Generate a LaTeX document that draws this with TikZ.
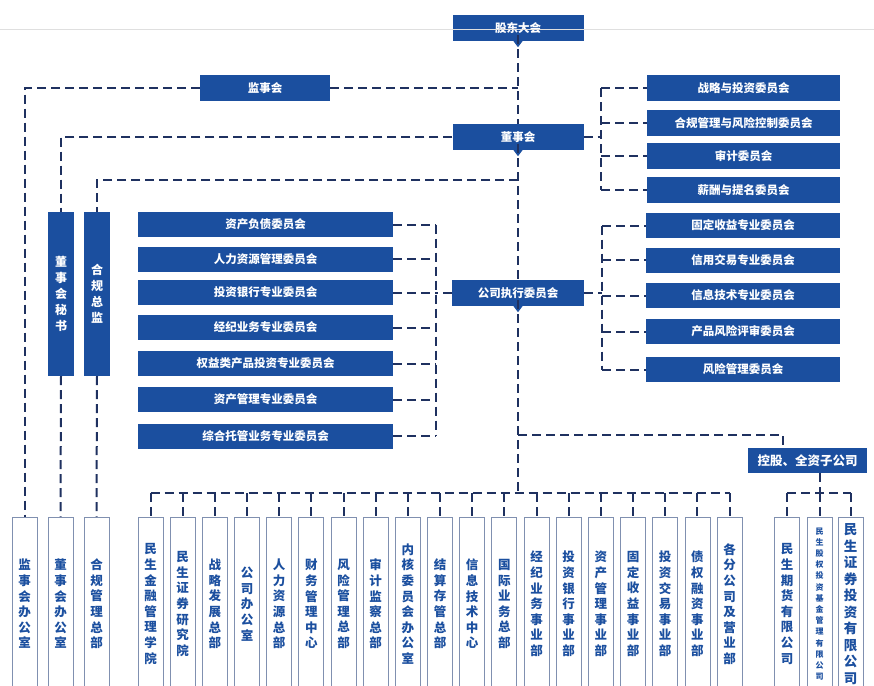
\documentclass[tikz,border=0pt]{standalone}
\usepackage{fontspec}
\setmainfont{Noto Sans CJK SC}
\usetikzlibrary{positioning,calc}
\XeTeXlinebreaklocale "zh"
\XeTeXlinebreakskip=0pt plus 1pt
\setlength{\parindent}{0pt}
\definecolor{boxblue}{HTML}{1B4F9F}
\definecolor{linenavy}{HTML}{1F3160}
\definecolor{deptline}{HTML}{8090B0}

\begin{document}
\begin{tikzpicture}[x=1pt,y=-1pt,
  bluebox/.style={fill=boxblue,text=white,inner sep=0pt,minimum height=26pt,font=\bfseries\fontsize{11.5}{14}\selectfont},
  vbluebox/.style={bluebox,minimum width=26pt,minimum height=164pt,text width=13pt,align=center,font=\bfseries\fontsize{12}{16}\selectfont},
  deptbox/.style={draw=deptline,line width=0.8pt,fill=white,text=boxblue,inner sep=0pt,minimum width=25pt,minimum height=174pt,text width=13pt,align=center,font=\bfseries\fontsize{12.5}{15.6}\selectfont},
  link/.style={linenavy,line width=2pt,dash pattern=on 9pt off 5pt}]
\useasboundingbox (0,0) rectangle (874,685);
% top level
\node[bluebox,minimum width=131pt] (gd) at (518,28) {股东大会};
\node[bluebox,minimum width=130pt] (jsh) at (265,88) {监事会};
\node[bluebox,minimum width=131pt] (dsh) at (518,137) {董事会};
\node[bluebox,minimum width=132pt] (gszx) at (518,293) {公司执行委员会};
\node[vbluebox] (dmsj) at (61,294) {董事会秘书};
\node[vbluebox] (hgzj) at (97,294) {合规总监};
\node[bluebox,minimum width=119pt,minimum height=25pt,font=\bfseries\fontsize{12.5}{14}\selectfont] (kgqz) at (807.5,460.5) {控股、全资子公司};
\foreach \b in {gd,dsh,gszx}
  \fill[boxblue] (\b.south) ++(-4.5,0) -- ++(9,0) -- ++(-4.5,6) -- cycle;
\draw[gray!25,line width=1pt] (0,30)--(874,30);
% committees
\foreach \name/\y [count=\i] in {战略与投资委员会/88,合规管理与风险控制委员会/123,审计委员会/156,薪酬与提名委员会/190}
  \node[bluebox,minimum width=193pt] (bc\i) at (743.5,\y) {\name};
\foreach \name/\y [count=\i] in {资产负债委员会/224.5,人力资源管理委员会/259,投资银行专业委员会/292.5,经纪业务专业委员会/327.5,权益类产品投资专业委员会/363.5,资产管理专业委员会/399.5,综合托管业务专业委员会/436}
  \node[bluebox,minimum width=255pt,minimum height=25pt] (lc\i) at (265.5,\y) {\name};
\foreach \name/\y [count=\i] in {固定收益专业委员会/225.5,信用交易专业委员会/260,信息技术专业委员会/295.5,产品风险评审委员会/331.5,风险管理委员会/369.5}
  \node[bluebox,minimum width=194pt,minimum height=25pt] (rc\i) at (743,\y) {\name};
% departments
\node[deptbox] (jsbgs) at (24.5,604) {监事会办公室};
\node[deptbox] (dsbgs) at (60.5,604) {董事会办公室};
\node[deptbox] (hgbz) at (96.5,604) {合规管理总部};
\foreach \name [count=\i from 0] in {民生金融管理学院,民生证券研究院,战略发展总部,公司办公室,人力资源总部,财务管理中心,风险管理总部,审计监察总部,内核委员会办公室,结算存管总部,信息技术中心,国际业务总部,经纪业务事业部,投资银行事业部,资产管理事业部,固定收益事业部,投资交易事业部,债权融资事业部,各分公司及营业部}
  \node[deptbox] (d\i) at ({150.5+32.17*\i},604) {\name};
\node[deptbox] (s1) at (787,604) {民生期货有限公司};
\node[deptbox,font=\bfseries\fontsize{8}{11.2}\selectfont] (s2) at (819.5,604) {民生股权投资基金管理有限公司};
\node[deptbox,text width=14pt,font=\bfseries\fontsize{13.5}{16.5}\selectfont] (s3) at (850.5,604) {民生证券投资有限公司};
% connectors
\coordinate (bx) at (601,0);
\coordinate (lx) at (436,0);
\coordinate (rx) at (602,0);
\coordinate (hgy) at (518,180);
\coordinate (ky) at (518,435);
\coordinate (kx) at (783,0);
\coordinate (busy) at (0,493);
\draw[link] ([yshift=6pt]gd.south) -- (dsh.north);
\draw[link] (jsh.east) -- (jsh.east -| gd.south);
\draw[link] (jsh.west) -- (jsh.west -| jsbgs.north) -- (jsbgs.north);
\draw[link] (dsh.west) -- (dsh.west -| dmsj.north) -- (dmsj.north);
\draw[link] (dmsj.south) -- (dsbgs.north);
\draw[link] ([yshift=6pt]dsh.south) -- (gszx.north);
\draw[link] (hgy) -- (hgy -| hgzj.north) -- (hgzj.north);
\draw[link] (hgzj.south) -- (hgbz.north);
\draw[link] (dsh.east) -- (dsh.east -| bx);
\draw[link] (bx |- bc1) -- (bx |- bc4);
\foreach \i in {1,...,4}
  \draw[link] (bx |- bc\i) -- (bc\i.west);
\draw[link] (gszx.west) -- (gszx.west -| lx);
\draw[link] (lx |- lc1) -- (lx |- lc7);
\foreach \i in {1,...,7}
  \draw[link] (lc\i.east) -- (lx |- lc\i);
\draw[link] (gszx.east) -- (gszx.east -| rx);
\draw[link] (rx |- rc1) -- (rx |- rc5);
\foreach \i in {1,...,5}
  \draw[link] (rx |- rc\i) -- (rc\i.west);
\draw[link] ([yshift=6pt]gszx.south) -- (gszx.south |- busy);
\draw[link] (d0.north |- busy) -- (d18.north |- busy);
\foreach \i in {0,...,18}
  \draw[link] (d\i.north |- busy) -- (d\i.north);
\draw[link] (ky) -- (ky -| kx) -- (kx |- kgqz.north);
\draw[link] (s2.north |- kgqz.south) -- (s2.north |- busy);
\draw[link] (s1.north |- busy) -- (s3.north |- busy);
\foreach \i in {1,2,3}
  \draw[link] (s\i.north |- busy) -- (s\i.north);
\end{tikzpicture}
\end{document}
